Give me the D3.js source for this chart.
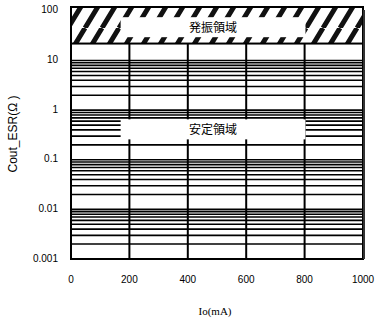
<!DOCTYPE html>
<html>
<head>
<meta charset="utf-8">
<script src="https://cdn.jsdelivr.net/npm/d3@7"></script>
<style>
  body { margin: 0; background: #fff; }
  svg { display: block; }
  .tick-label { font-family: "Liberation Sans", Arial, sans-serif; font-size: 10px; fill: #000; }
</style>
</head>
<body>
<svg id="chart"></svg>
<script>
// values
let xTicks = [0, 200, 400, 600, 800, 1000];
let yTicks = [0.001, 0.01, 0.1, 1, 10, 100];
let yTickLabels = ["0.001", "0.01", "0.1", "1", "10", "100"];
let ioRange = [0, 1000];           // mA
let esrRange = [0.001, 120];       // frame bottom / top
let oscillationBand = [22, 120];   // hatched area (Ω)
let regionLabels = ["発振領域", "安定領域"];
let regionEsr = [47, 0.41];        // centre of label boxes
let regionIo = [170, 803];         // left / right of label boxes

let width = 375, height = 320;
let margin = { top: 7, right: 12, bottom: 61, left: 71 };

let svg = d3.select("#chart").attr("width", width).attr("height", height);

let x = d3.scaleLinear().domain(ioRange).range([margin.left, width - margin.right]);
let y = d3.scaleLog().domain(esrRange).range([height - margin.bottom, margin.top]);

// hatch pattern
let defs = svg.append("defs");
let pat = defs.append("pattern")
  .attr("id", "hatch")
  .attr("patternUnits", "userSpaceOnUse")
  .attr("width", 17).attr("height", 28);
pat.append("rect").attr("width", 17).attr("height", 28).attr("fill", "#fff");
pat.append("path")
  .attr("d", "M-17,28L0,0M0,28L17,0M17,28L34,0")
  .attr("stroke", "#111").attr("stroke-width", 5);

// horizontal grid (log minor lines), only below the hatched band
let gridVals = y.ticks().filter(v => v > esrRange[0] && v <= 10);
svg.append("g").selectAll("line").data(gridVals).enter().append("line")
  .attr("x1", x(ioRange[0])).attr("x2", x(ioRange[1]))
  .attr("y1", d => y(d)).attr("y2", d => y(d))
  .attr("stroke", "#000")
  .attr("stroke-width", 1.6);

// vertical grid
svg.append("g").selectAll("line").data(xTicks.slice(1, -1)).enter().append("line")
  .attr("x1", d => x(d)).attr("x2", d => x(d))
  .attr("y1", y(oscillationBand[0])).attr("y2", y(esrRange[0]))
  .attr("stroke", "#000")
  .attr("stroke-width", 2);

// hatched oscillation region
svg.append("rect")
  .attr("x", x(ioRange[0])).attr("y", y(oscillationBand[1]))
  .attr("width", x(ioRange[1]) - x(ioRange[0]))
  .attr("height", y(oscillationBand[0]) - y(oscillationBand[1]))
  .attr("fill", "url(#hatch)")
  .attr("stroke", "#000").attr("stroke-width", 2);

// frame
svg.append("rect")
  .attr("x", x(ioRange[0])).attr("y", y(esrRange[1]))
  .attr("width", x(ioRange[1]) - x(ioRange[0]))
  .attr("height", y(esrRange[0]) - y(esrRange[1]))
  .attr("fill", "none")
  .attr("stroke", "#000").attr("stroke-width", 2);
svg.append("line")
  .attr("x1", x(ioRange[1]) + 1).attr("x2", x(ioRange[1]) + 1)
  .attr("y1", y(esrRange[1]) + 3).attr("y2", y(esrRange[0]))
  .attr("stroke", "#333").attr("stroke-width", 2);

// region label boxes
let boxH = 20;
let regions = svg.append("g").selectAll("g").data(regionLabels).enter().append("g");
regions.append("rect")
  .attr("x", x(regionIo[0]))
  .attr("width", x(regionIo[1]) - x(regionIo[0]))
  .attr("y", (d, i) => y(regionEsr[i]) - boxH / 2)
  .attr("height", boxH)
  .attr("fill", "#fff");
regions.append("text")
  .attr("x", (x(regionIo[0]) + x(regionIo[1])) / 2)
  .attr("y", (d, i) => y(regionEsr[i]))
  .attr("dy", "0.36em")
  .attr("text-anchor", "middle")
  .attr("font-family", "'Noto Sans CJK JP', sans-serif")
  .attr("font-size", 12)
  .text(d => d);

// y tick labels
svg.append("g").selectAll("text").data(yTicks).enter().append("text")
  .attr("class", "tick-label")
  .attr("x", margin.left - 13)
  .attr("y", d => y(d) - 1)
  .attr("dy", "0.35em")
  .attr("text-anchor", "end")
  .text((d, i) => yTickLabels[i]);

// x tick labels
svg.append("g").selectAll("text").data(xTicks).enter().append("text")
  .attr("class", "tick-label")
  .attr("x", d => x(d))
  .attr("y", y(esrRange[0]) + 20)
  .attr("dy", "0.35em")
  .attr("text-anchor", "middle")
  .text(d => d);

// axis titles
svg.append("text")
  .attr("x", (x(ioRange[0]) + x(ioRange[1])) / 2 - 2)
  .attr("y", 311)
  .attr("dy", "0.35em")
  .attr("text-anchor", "middle")
  .attr("font-family", "'Liberation Serif', serif")
  .attr("font-size", 11)
  .text("Io(mA)");

svg.append("text")
  .attr("transform", "translate(13," + 134 + ") rotate(-90)")
  .attr("dy", "0.35em")
  .attr("text-anchor", "middle")
  .attr("font-family", "'Liberation Sans', Arial, sans-serif")
  .attr("font-size", 12)
  .text("Cout_ESR(Ω )");
</script>
</body>
</html>
